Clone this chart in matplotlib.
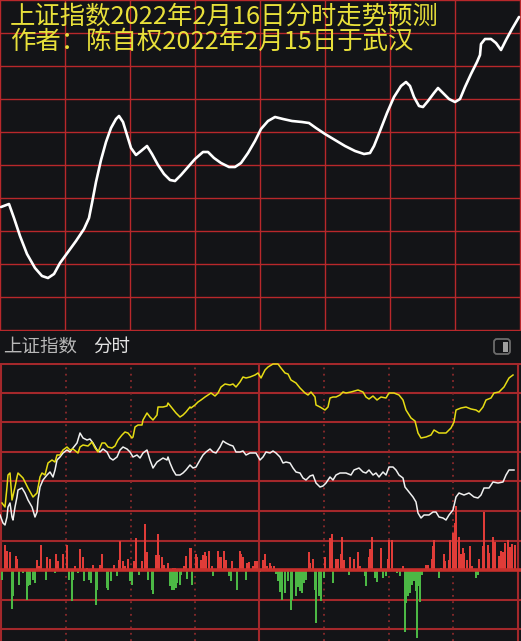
import matplotlib.pyplot as plt
import numpy as np
from matplotlib.patches import FancyBboxPatch, Rectangle

plt.rcParams['font.family'] = ['Noto Sans CJK SC', 'DejaVu Sans']

# ---------- data (screen units) ----------
title1 = "上证指数2022年2月16日分时走势预测"
title2 = "作者：陈自权2022年2月15日于武汉"
header_name = "上证指数"
header_mode = "分时"

# predicted curve (top panel)
pred_x = [1, 9, 14, 20, 27, 35, 42, 48, 54, 60, 68, 76, 84, 89, 92, 96, 101, 106, 111, 116,
          119, 123, 127, 131, 136, 141, 147, 152, 158, 164, 170, 175, 181, 188, 195, 203, 208, 214, 221, 229,
          235, 241, 248, 255, 261, 268, 275, 283, 292, 302, 309, 316, 325, 335, 345, 355, 364, 370, 374, 380,
          387, 394, 401, 406, 410, 414, 419, 423, 428, 434, 438, 443, 449, 455, 460, 465, 471, 477, 480, 481,
          485, 491, 496, 501, 506, 512, 519]
pred_y = [207, 204, 218, 236, 254, 268, 276, 278, 274, 263, 252, 241, 229, 218, 203, 182, 160, 142, 128, 119,
          116, 122, 135, 148, 155, 151, 146, 154, 165, 174, 180, 181, 175, 167, 159, 152, 152, 158, 163, 167,
          167, 163, 153, 141, 129, 121, 117, 119, 121, 122, 123, 128, 134, 140, 146, 151, 154, 153, 146, 131,
          113, 97, 86, 82, 86, 97, 106, 107, 101, 93, 88, 93, 99, 102, 99, 87, 74, 62, 55, 44,
          39, 39, 43, 50, 40, 29, 17]

# actual intraday lines (bottom panel)
yel_x = [2, 5, 7, 8, 10, 12, 15, 17, 18, 23, 28, 33, 37, 40, 42, 45, 48, 52, 55, 57,
         60, 63, 67, 70, 73, 78, 80, 83, 88, 92, 95, 98, 102, 105, 108, 112, 115, 118, 122, 125,
         128, 132, 133, 135, 138, 142, 143, 147, 150, 153, 157, 158, 163, 167, 168, 172,
         176, 180, 183, 186, 190, 191, 195, 198, 201, 205, 208, 211, 215, 218, 221, 225, 230, 233, 236, 240,
         243, 246, 250, 255, 258, 261, 265, 268, 273, 278, 281, 285, 288, 291, 296, 300, 305, 308, 311, 315,
         316, 320, 325, 328, 330, 333, 336, 340, 343, 346,
         351, 358, 363, 366, 369, 373, 377, 381, 386, 389, 394, 399, 403, 406, 411, 415, 418, 421, 426, 431,
         434, 439, 446, 451, 454, 456, 461, 466, 471, 476, 479, 483, 486, 491, 494, 499, 504, 509, 513]
yel_y = [503, 507, 487, 475, 473, 500, 487, 477, 473, 478, 488, 497, 493, 477, 473, 475, 463, 460, 462, 455,
         455, 450, 447, 450, 449, 453, 447, 445, 446, 442, 448, 452, 443, 443, 447, 448, 446, 440, 435, 432,
         433, 438, 437, 427, 425, 425, 420, 413, 417, 420, 415, 407, 407, 406, 403, 408,
         413, 417, 415, 412, 407, 408, 405, 402, 400, 397, 395, 393, 396, 393, 387, 384, 385, 384, 387, 382,
         377, 378, 377, 375, 373, 378, 370, 367, 364, 364, 368, 373, 374, 380, 383, 388, 393, 395, 392, 397,
         405, 407, 410, 407, 398, 397, 397, 395, 392, 393,
         392, 390, 392, 397, 399, 396, 400, 397, 398, 393, 393, 395, 400, 410, 418, 421, 433, 438, 437, 435,
         430, 433, 433, 428, 422, 410, 408, 407, 409, 410, 412, 407, 400, 398, 393, 392, 387, 378, 375]

wht_x = [0, 3, 5, 7, 8, 10, 12, 13, 15, 17, 18, 22, 25, 28, 32, 35, 37, 38, 40, 43,
         47, 50, 53, 55, 57, 60, 63, 67, 70, 73, 77, 80, 83, 87, 90, 93, 97, 100, 103, 107,
         110, 113, 117, 120, 123, 127, 130, 133, 137, 140, 143, 147, 150, 153, 157, 160, 163, 167, 168, 170,
         173, 176, 180, 183, 186, 190, 193, 196, 200, 203, 206, 210, 213, 216, 220, 223, 226, 230, 233, 236,
         240, 243, 246, 250, 253, 256, 260, 263, 266, 270, 273, 276, 280, 283, 286, 290, 293, 296, 300, 303,
         306, 310, 313, 316, 320, 323, 326, 330, 333, 336, 340, 343, 346,
         351, 354, 359, 363, 366, 369, 373, 376, 379, 383, 386, 389, 393, 396, 399, 403, 405, 409, 413, 416,
         418, 421, 424, 429, 433, 436, 439, 443, 446, 449, 453, 456, 459, 464, 469, 474, 478, 481, 484, 489,
         493, 498, 503, 506, 509, 514]
wht_y = [515, 523, 525, 517, 507, 503, 517, 520, 507, 497, 490, 488, 493, 500, 507, 517, 512, 500, 487, 480,
         475, 472, 477, 470, 460, 457, 453, 450, 452, 448, 443, 433, 438, 440, 439, 443, 450, 452, 449, 452,
         458, 460, 457, 450, 447, 449, 452, 457, 455, 458, 453, 450, 460, 468, 462, 460, 458, 460, 457, 463,
         470, 475, 475, 473, 470, 465, 468, 467, 460, 455, 452, 449, 452, 453, 447, 441, 443, 445, 446, 452,
         452, 451, 455, 453, 453, 453, 460, 457, 452, 453, 451, 453, 457, 463, 462, 463, 468, 472, 473, 478,
         480, 476, 475, 483, 487, 486, 483, 477, 480, 475, 473, 473, 473,
         475, 470, 468, 472, 473, 470, 475, 473, 477, 472, 475, 467, 467, 470, 475, 478, 487, 492, 497, 502,
         513, 518, 515, 515, 512, 512, 517, 518, 520, 515, 510, 497, 493, 495, 493, 497, 498, 495, 488, 488,
         482, 483, 482, 475, 470, 470]

# volume (up = red, down = green)
vol_up_x = [5, 7, 10, 16, 17, 37, 39, 41, 47, 50, 56, 58, 63, 67, 75, 80, 83, 87, 93, 100,
            102, 114, 119, 120, 123, 125, 128, 134, 136, 142, 145, 147, 156, 158, 159, 162, 164, 168, 173,
            175, 184, 186, 190, 191, 196, 197, 201, 203, 205, 206, 209, 212, 218, 220, 221, 224, 226, 232, 235,
            240, 241, 243, 247, 249, 253, 255, 257, 263, 265, 267, 270, 271, 274, 309, 310, 313, 325, 330, 332,
            336, 338, 341, 342, 344,
            350, 354, 358, 360, 369, 370, 372, 381, 388, 389, 392, 403, 426, 428, 432, 433, 434, 441, 444, 445,
            449, 450, 453, 455, 456, 459, 461, 463, 464, 467, 470, 472, 479, 483, 484, 488, 489, 493, 495, 499,
            501, 503, 505, 508, 510, 512, 515]
vol_up = [25, 19, 18, 14, 11, 10, 4, 25, 13, 11, 16, 9, 16, 25, 4, 21, 13, 2, 5, 5,
          16, 5, 10, 29, 9, 4, 11, 9, 32, 9, 46, 18, 15, 36, 15, 13, 5, 7, 2,
          2, 4, 14, 22, 22, 16, 13, 10, 15, 18, 14, 19, 4, 19, 13, 13, 19, 10, 9, 2,
          19, 16, 13, 7, 8, 4, 9, 9, 10, 16, 4, 7, 4, 4, 18, 7, 11, 13, 32, 36,
          11, 11, 16, 33, 10,
          13, 11, 18, 4, 13, 21, 33, 22, 11, 30, 30, 4, 5, 5, 11, 24, 30, 2, 16, 9,
          10, 30, 37, 47, 64, 33, 16, 22, 17, 10, 24, 4, 11, 24, 58, 25, 17, 33, 28, 14,
          19, 18, 27, 30, 23, 26, 25]
vol_dn_x = [2, 12, 13, 19, 23, 27, 28, 30, 33, 35, 46, 55, 69, 72, 73, 78, 84, 89, 91, 96,
            97, 107, 108, 111, 117, 130, 132, 139, 148, 152, 153, 170, 172,
            174, 176, 177, 180, 181, 187, 192, 213, 229, 231, 237, 246, 260, 276, 278, 280, 282, 285,
            288, 291, 292, 296, 298, 300, 302, 304, 306, 315, 316, 319, 321, 324, 327, 333,
            349, 365, 366, 375, 377, 383, 386, 397, 400, 405, 406, 408, 410, 412, 414, 416, 417, 419,
            420, 422, 439, 476, 478]
vol_dn = [10, 39, 26, 15, 3, 30, 16, 15, 10, 13, 10, 3, 10, 31, 10, 3, 11, 10, 13, 35,
          20, 18, 20, 11, 6, 11, 15, 5, 10, 20, 24, 16, 20,
          20, 18, 13, 15, 5, 9, 15, 6, 6, 11, 20, 10, 2, 4, 11, 22, 30, 23,
          11, 40, 30, 26, 17, 21, 23, 13, 10, 20, 53, 26, 31, 8, 1, 13,
          5, 6, 16, 8, 12, 8, 6, 3, 6, 62, 33, 26, 23, 15, 11, 21, 68, 16,
          32, 5, 8, 8, 5]

# ---------- style ----------
BG = '#131417'
GRID = '#b8282b'
GRID_B = '#a4282b'
YEL = '#e8e03a'
W, H = 521, 641

fig = plt.figure(figsize=(W / 100, H / 100), dpi=100, facecolor=BG)


def make_axes(top, bottom):
    ax = fig.add_axes([0, 1 - bottom / H, 1, (bottom - top) / H])
    ax.set_facecolor(BG)
    ax.set_xticks([])
    ax.set_yticks([])
    for s in ax.spines.values():
        s.set_visible(False)
    return ax


# ---------- top panel: prediction ----------
ax_top = make_axes(0, 331)
ax_top.set_xlim(0, 521)
ax_top.set_ylim(331, 0)
for k in range(11):
    ax_top.axhline(k * 33, color=GRID, lw=1.0)
for k in range(9):
    ax_top.axvline(k * 65, color=GRID, lw=1.0)
ax_top.plot(pred_x, pred_y, color='white', lw=1.9,
            solid_joinstyle='round', solid_capstyle='round', zorder=3)
ax_top.text(10, 17, title1, color=YEL, fontsize=18.3, ha='left', va='center', zorder=4)
ax_top.text(10, 42, title2, color=YEL, fontsize=18.3, ha='left', va='center', zorder=4)

# ---------- header strip ----------
ax_head = make_axes(331, 363)
ax_head.set_xlim(0, 521)
ax_head.set_ylim(363, 331)
ax_head.text(3, 347, header_name, color='#b8b8b8', fontsize=13.3, ha='left', va='center')
ax_head.text(93, 347, header_mode, color='#e4e4e4', fontsize=13.3, ha='left', va='center')
ax_head.add_patch(FancyBboxPatch((494, 339), 16, 15, boxstyle='round,pad=0,rounding_size=3',
                                 fill=False, ec='#6c6c6c', lw=1.3))
ax_head.add_patch(Rectangle((503, 341.5), 5, 10, color='#a0a0a0', lw=0))

# ---------- bottom panel: actual intraday ----------
ax_bot = make_axes(363, 641)
ax_bot.set_xlim(0, 521)
ax_bot.set_ylim(641, 363)
for k in range(10):
    y = 363 + 29.6 * k
    lw = 2.2 if k == 0 else 1.5
    ax_bot.axhline(y, color=GRID_B, lw=lw)
for x in [1, 259, 518]:
    ax_bot.axvline(x, color=GRID_B, lw=1.5)
for x in [66, 131, 195, 324, 389, 453]:
    ax_bot.axvline(x, color='#8a2a2c', lw=1.3, ls=(0, (1, 2.5)))
ax_bot.plot(wht_x, wht_y, color='#f0f0f0', lw=1.1, zorder=3)
ax_bot.plot(yel_x, yel_y, color='#e6dc14', lw=1.1, zorder=3)

ax_vol = fig.add_axes(ax_bot.get_position(), facecolor='none')
ax_vol.set_xticks([])
ax_vol.set_yticks([])
for s in ax_vol.spines.values():
    s.set_visible(False)
ax_vol.set_xlim(0, 521)
ax_vol.set_ylim(-71, 207)
ax_vol.bar(vol_up_x, vol_up, width=1.8, color='#e03c38', lw=0)
ax_vol.bar(vol_dn_x, -np.array(vol_dn), width=1.8, color='#4cb845', lw=0)
ax_vol.axhline(0, color='#c8302c', lw=2.6, zorder=3)

fig.savefig('out.png', dpi=100, facecolor=BG)
